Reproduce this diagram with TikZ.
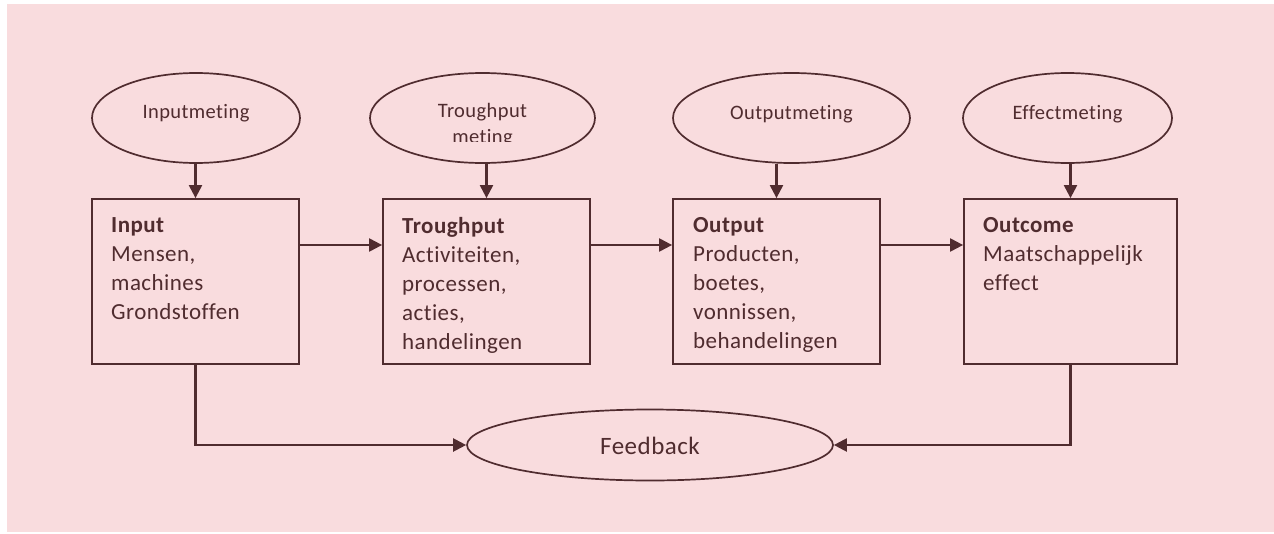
\documentclass[tikz,border=0pt]{standalone}
\usepackage{fontspec}
\setmainfont{Carlito}[Ligatures=NoCommon, LetterSpace=2]
\usetikzlibrary{arrows.meta,shapes.geometric}

\definecolor{bgpink}{RGB}{249,220,222}
\definecolor{ink}{RGB}{80,44,47}

\tikzset{
  meas/.style={ellipse, draw=ink, line width=1.7pt, inner sep=0pt,
               minimum height=90pt},
  meastext/.style={anchor=base, inner sep=0pt, text=ink,
                   font=\fontsize{20.5}{24}\selectfont},
  stage/.style={rectangle, draw=ink, line width=1.8pt, inner sep=0pt,
                minimum height=165pt},
  stagetext/.style={anchor=north west, inner sep=0pt, align=left, text=ink,
                    font=\fontsize{23}{29}\selectfont},
  flow/.style={draw=ink, line width=2.2pt,
               -{Triangle[length=13pt,width=13pt]}},
}

\begin{document}
\begin{tikzpicture}[x=1pt,y=-1pt]
\useasboundingbox (0,0) rectangle (1274,533);
\fill[bgpink] (7,4) rectangle (1274,532);

% measurement ellipses
\node[meas, minimum width=208pt] (e1) at (196,118) {};
\node[meas, minimum width=225pt] (e2) at (482.5,118) {};
\node[meas, minimum width=237pt] (e3) at (791.5,118) {};
\node[meas, minimum width=209pt] (e4) at (1067.5,118) {};

\node[meastext] (t1) at (196,118) {Inputmeting};
\begin{scope}
  \clip (370,60) rectangle (600,141);
  \node[meastext] (t2a) at (482.5,117) {Troughput};
  \node[meastext] (t2b) at (482.5,143) {meting};
\end{scope}
\node[meastext] (t3) at (791.5,119) {Outputmeting};
\node[meastext] (t4) at (1067.5,119) {Effectmeting};

% stages
\node[stage, minimum width=207pt] (b1) at (195.5,281.5) {};
\node[stage, minimum width=207pt] (b2) at (486.5,281.5) {};
\node[stage, minimum width=207pt] (b3) at (776.5,281.5) {};
\node[stage, minimum width=213pt] (b4) at (1070.5,281.5) {};

\node[stagetext] (s1) at (111,217) {\textbf{Input}\\Mensen,\\machines\\Grondstoffen};
\node[stagetext] (s2) at (402,217) {\textbf{Troughput}\\Activiteiten,\\processen,\\acties,\\handelingen};
\node[stagetext] (s3) at (693,217) {\textbf{Output}\\Producten,\\boetes,\\vonnissen,\\behandelingen};
\node[stagetext] (s4) at (983,217) {\textbf{Outcome}\\Maatschappelijk\\effect};

% feedback
\node[ellipse, draw=ink, line width=1.7pt, inner sep=0pt,
      minimum width=366pt, minimum height=71pt] (fb) at (650,445) {};
\node[anchor=base, inner sep=0pt, text=ink, font=\fontsize{25}{30}\selectfont]
  (fbt) at (650,454) {Feedback};

% connectors
\foreach \i in {1,...,4}
  \draw[flow] (b\i.north |- e\i.south) -- (b\i.north);
\draw[flow] ([yshift=36.5pt]b1.east) -- ([yshift=36.5pt]b2.west);
\draw[flow] ([yshift=36.5pt]b2.east) -- ([yshift=36.5pt]b3.west);
\draw[flow] ([yshift=36.5pt]b3.east) -- ([yshift=36.5pt]b4.west);
\draw[flow] (b1.south) |- (fb.west);
\draw[flow] (b4.south) |- (fb.east);
\end{tikzpicture}
\end{document}
